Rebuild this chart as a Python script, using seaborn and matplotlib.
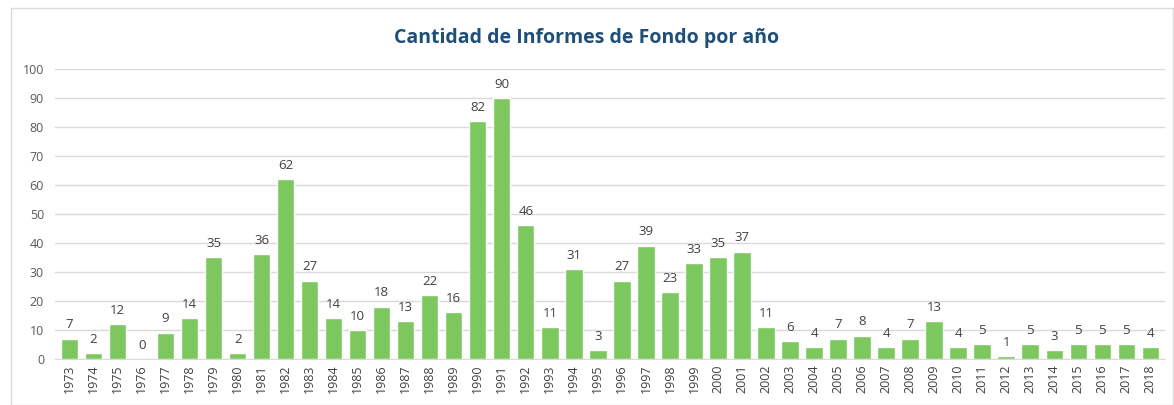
import matplotlib
matplotlib.use("Agg")
import matplotlib.pyplot as plt
import seaborn as sns
import pandas as pd
from matplotlib.patches import Rectangle

# Data
years = [str(y) for y in range(1973, 2019)]
informes = [7, 2, 12, 0, 9, 14, 35, 2, 36, 62, 27, 14, 10, 18, 13, 22, 16,
            82, 90, 46, 11, 31, 3, 27, 39, 23, 33, 35, 37, 11, 6, 4, 7, 8,
            4, 7, 13, 4, 5, 1, 5, 3, 5, 5, 5, 4]
y_ticks = [0, 10, 20, 30, 40, 50, 60, 70, 80, 90, 100]

df = pd.DataFrame({"anio": years, "cantidad": informes})

sns.set_style("white")
plt.rcParams['font.family'] = ['Open Sans', 'DejaVu Sans']

fig = plt.figure(figsize=(11.74, 4.05), dpi=100)
ax = fig.add_axes([0.047, 0.114, 0.945, 0.716])

# light border around the chart area, like the spreadsheet export
fig.patches.append(Rectangle((0.009, 0.0), 0.99, 0.98, transform=fig.transFigure,
                             fill=False, edgecolor="#d9d9d9", linewidth=1))

sns.barplot(data=df, x="anio", y="cantidad", color="#7cc85f", saturation=1,
            width=0.72, ax=ax, zorder=3)

for i, v in enumerate(informes):
    ax.text(i, v + 2.5, str(v), ha="center", va="bottom", fontsize=9.5, color="#404040")

ax.set_ylim(0, 100)
ax.set_yticks(y_ticks)
ax.set_xlim(-0.6, len(years) - 0.4)
ax.yaxis.grid(True, color="#d9d9d9", linewidth=1, zorder=0)
ax.set_axisbelow(True)
for s in ["top", "right", "left"]:
    ax.spines[s].set_visible(False)
ax.spines["bottom"].set_color("#d9d9d9")
ax.tick_params(axis="x", rotation=90, labelsize=9, colors="#404040", length=0, pad=4)
ax.tick_params(axis="y", labelsize=9, colors="#595959", length=0, pad=8)
ax.set_xlabel("")
ax.set_ylabel("")

fig.text(0.5, 0.905, "Cantidad de Informes de Fondo por año", ha="center", va="center",
         fontsize=14, fontweight="bold", color="#1f4e79")

fig.savefig("out.png", dpi=100)
